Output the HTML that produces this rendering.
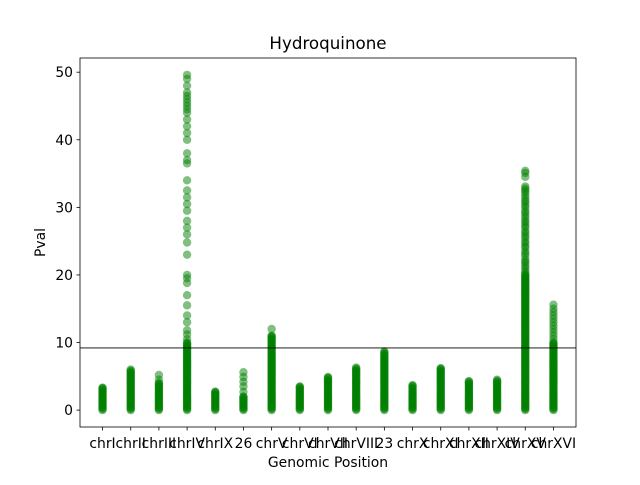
<!DOCTYPE html>
<html><head><meta charset="utf-8"><style>
body{margin:0;background:#fff;}
svg text{font-family:"DejaVu Sans","Liberation Sans",sans-serif;}
</style></head><body>
<svg id="chart" width="640" height="480" xmlns="http://www.w3.org/2000/svg"></svg>
<script>
const categories=["chrI","chrII","chrIII","chrIV","chrIX","26","chrV","chrVI","chrVII","chrVIII","23","chrX","chrXI","chrXII","chrXIV","chrXV","chrXVI"];
const yTicks=[0,10,20,30,40,50];
const threshold=9.2;
// top of the dense (solid) band of points per category
const denseTop=[3.3,6.0,4.0,10.0,2.7,2.0,11.0,3.5,4.9,6.3,8.7,3.7,6.2,4.3,4.5,20.0,10.0];
// sparse individual points above the dense band
const sparseChrIII=[4.5,5.2];
const sparseChrIV=[10.5,11.2,11.8,13,14,15.5,17,18.8,19.5,20,23,24.8,26,27,28,29.5,30.5,31.5,32.5,34,36.5,37,38,40,41,42,43,44,44.5,45,45.5,46,46.5,47,48,49,49.6];
const sparse26=[2.7,3.5,4.2,4.9,5.6];
const sparseChrV=[12];
const sparseChrXV=[20.3,20.6,21,21.3,21.7,22,22.3,22.8,23.2,23.5,24,24.3,24.7,25,25.5,25.8,26.2,26.5,27,27.3,27.7,28,28.4,28.8,29.2,29.5,30,30.3,30.7,31,31.4,31.8,32.2,32.5,32.8,33.1,34.5,35.1,35.4];
const sparseChrXVI=[10.5,11,11.5,12,12.5,13,13.5,14,14.5,15,15.6];
const sparse=[[],[],sparseChrIII,sparseChrIV,[],sparse26,sparseChrV,[],[],[],[],[],[],[],[],sparseChrXV,sparseChrXVI];

const svg=document.getElementById('chart');
const NS='http://www.w3.org/2000/svg';
const L=80,R=576,T=58,B=427;
const xMin=-0.8,xMax=16.8,yMin=-2.5,yMax=52.1;
function xs(i){return L+(i-xMin)/(xMax-xMin)*(R-L);}
function ys(v){return B-(v-yMin)/(yMax-yMin)*(B-T);}
function mk(tag,attrs){const e=document.createElementNS(NS,tag);for(const k in attrs)e.setAttribute(k,attrs[k]);svg.appendChild(e);return e;}

const g=document.createElementNS(NS,'g');svg.appendChild(g);


function dot(i,v){
  const c=document.createElementNS(NS,'circle');
  c.setAttribute('cx',xs(i));c.setAttribute('cy',ys(v));c.setAttribute('r',4.2);
  c.setAttribute('fill','#008000');c.setAttribute('fill-opacity','0.5');
  
  
  g.appendChild(c);
}
categories.forEach((cat,i)=>{
  const top=denseTop[i];
  for(let v=0;v<top;v+=0.15)dot(i,v);
  dot(i,top);
  sparse[i].forEach(v=>dot(i,v));
});

const th=mk('line',{x1:L,x2:R,y1:ys(threshold),y2:ys(threshold),stroke:'#000','stroke-width':0.8});



const frame=mk('rect',{x:L,y:T,width:R-L,height:B-T,fill:'none',stroke:'#000','stroke-width':0.8});



yTicks.forEach(t=>{
  mk('line',{x1:L-3.5,x2:L,y1:ys(t),y2:ys(t),stroke:'#000','stroke-width':0.8});
  const tx=mk('text',{x:L-7,y:ys(t)+5,'text-anchor':'end','font-size':13.9});
  tx.textContent=t;
  
  
});
categories.forEach((c,i)=>{
  mk('line',{x1:xs(i),x2:xs(i),y1:B,y2:B+3.5,stroke:'#000','stroke-width':0.8});
  const tx=mk('text',{x:xs(i),y:B+21,'text-anchor':'middle','font-size':13.9});
  tx.textContent=c;
  
  
});
const title=mk('text',{x:(L+R)/2,y:49,'text-anchor':'middle','font-size':16.7});
title.textContent='Hydroquinone';


const xl=mk('text',{x:(L+R)/2,y:467,'text-anchor':'middle','font-size':13.9});
xl.textContent='Genomic Position';


const yl=mk('text',{x:45,y:(T+B)/2,'text-anchor':'middle','font-size':13.9,transform:'rotate(-90 45 '+((T+B)/2)+')'});
yl.textContent='Pval';


</script>
</body></html>
